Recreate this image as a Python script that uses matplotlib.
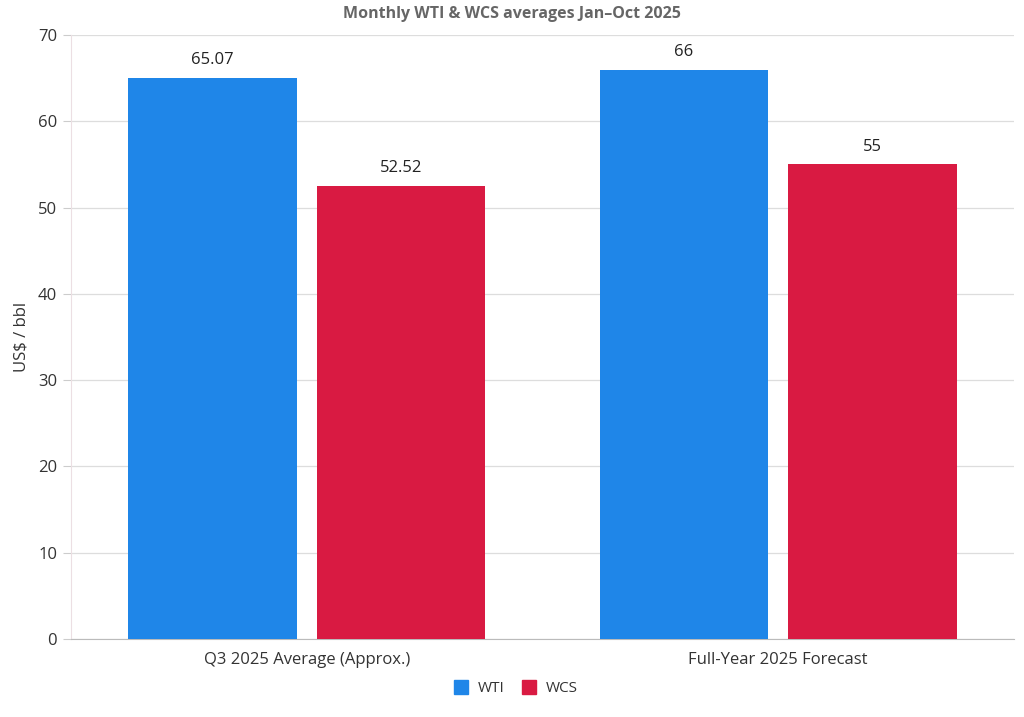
import matplotlib
matplotlib.use("Agg")
import matplotlib.pyplot as plt
import numpy as np
from matplotlib.lines import Line2D

categories = ["Q3 2025 Average (Approx.)", "Full-Year 2025 Forecast"]
series_names = ["WTI", "WCS"]
wti = [65.07, 66]
wcs = [52.52, 55]
wti_labels = ["65.07", "66"]
wcs_labels = ["52.52", "55"]
colors = ["#1f86e8", "#d91a42"]

plt.rcParams['font.family'] = ['Open Sans', 'DejaVu Sans']

fig = plt.figure(figsize=(10.24, 7.17), dpi=100)
ax = fig.add_axes([71/1024, 1-639/717, (1014-71)/1024, (639-35)/717])

x = np.arange(len(categories))
w = 0.358
off = 0.2
b1 = ax.bar(x - off, wti, w, color=colors[0], label=series_names[0], zorder=3)
b2 = ax.bar(x + off, wcs, w, color=colors[1], label=series_names[1], zorder=3)

for bars, labs in ((b1, wti_labels), (b2, wcs_labels)):
    for r, lab in zip(bars, labs):
        ax.annotate(lab, (r.get_x() + r.get_width()/2, r.get_height()),
                    xytext=(0, 7), textcoords="offset points",
                    ha="center", va="bottom", fontsize=12, color="#222222")

ax.set_xlim(-0.5, 1.5)
ax.set_ylim(0, 70)
ax.set_yticks(range(0, 71, 10))
ax.set_xticks(x)
ax.set_xticklabels(categories)
ax.grid(axis="y", color="#dddddd", linewidth=0.9, zorder=0)
ax.set_axisbelow(True)
for s in ("top", "right"):
    ax.spines[s].set_visible(False)
ax.spines["left"].set_color("#ecdfe3")
ax.spines["bottom"].set_color("#bbbbbb")
ax.tick_params(axis="y", length=6, color="#cccccc", labelsize=12, labelcolor="#333333", pad=4)
ax.tick_params(axis="x", length=0, labelsize=12, labelcolor="#333333", pad=9)
ax.set_ylabel("US$ / bbl", fontsize=12, color="#333333")
ax.yaxis.set_label_coords(-(71-30)/943, 0.5)

fig.text(0.5, 1-14/717, "Monthly WTI & WCS averages Jan\u2013Oct 2025", ha="center", va="center",
         fontsize=11.5, fontweight="bold", color="#666666")

handles = [Line2D([0], [0], marker="s", linestyle="none", markersize=10,
                  markerfacecolor=c, markeredgecolor=c) for c in colors]
fig.legend(handles, series_names, loc="center", bbox_to_anchor=(0.5, 1-689/717),
           ncol=2, frameon=False, fontsize=11, handletextpad=0.1, columnspacing=0.6,
           labelcolor="#333333")

fig.savefig("out.png", dpi=100)
